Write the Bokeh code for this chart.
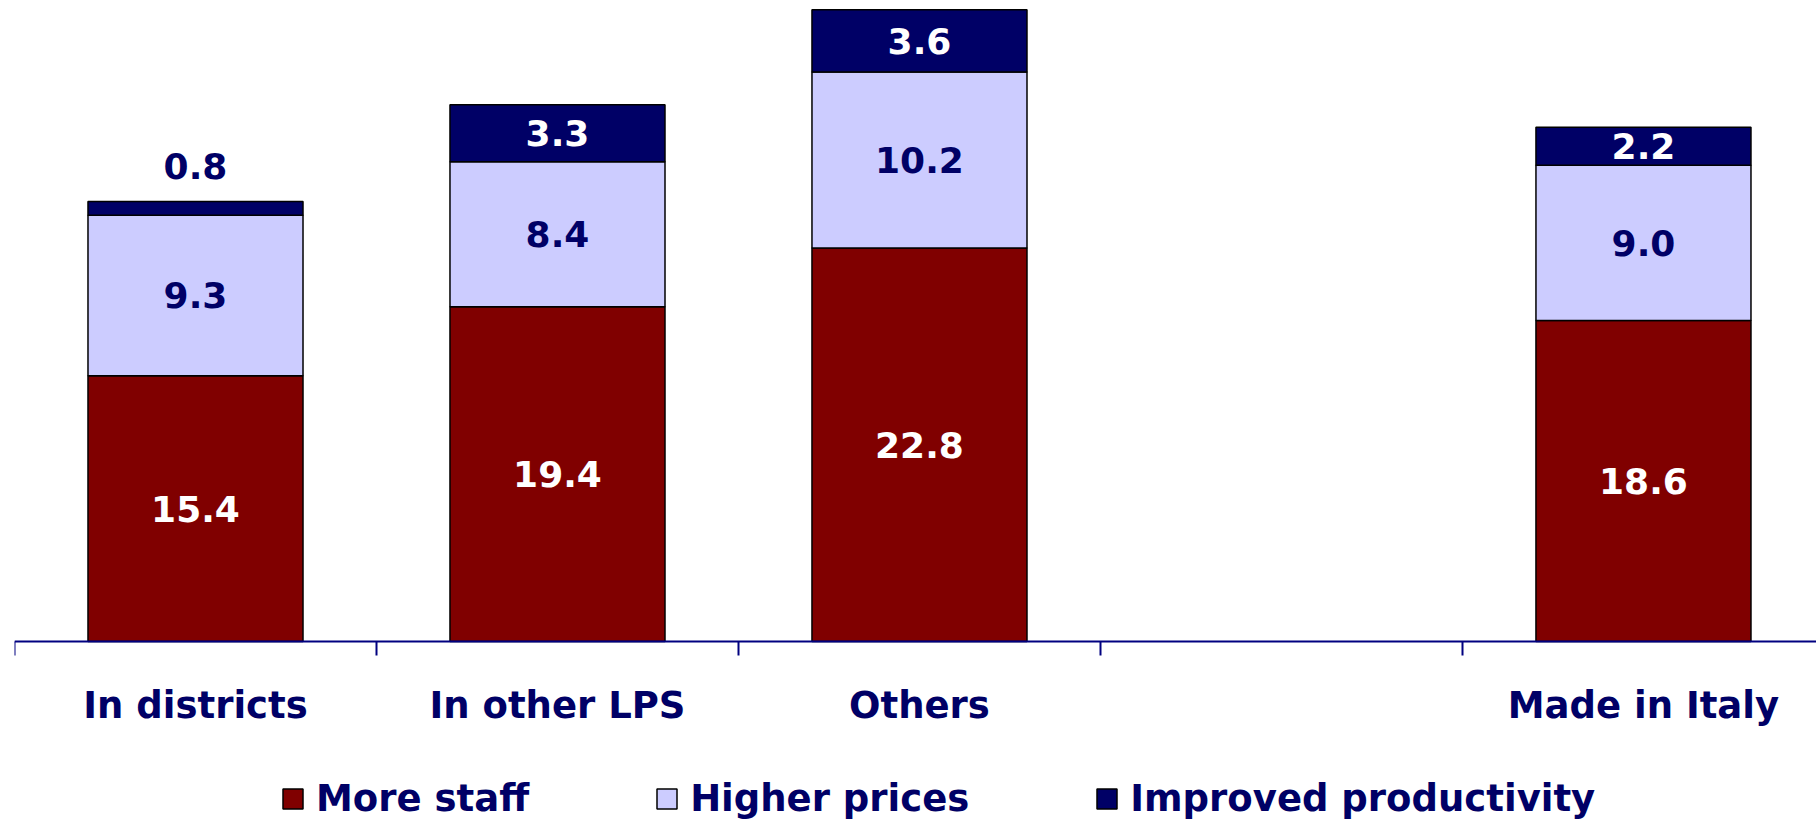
from bokeh.plotting import figure
from bokeh.models import Range1d, FixedTicker, Legend, LegendItem, ColumnDataSource
from bokeh.embed import file_html
from bokeh.resources import INLINE
from bokeh.core.properties import value

# ---- data ----
categories = ["In districts", "In other LPS", "Others", "", "Made in Italy"]
series = ["More staff", "Higher prices", "Improved productivity"]
more_staff = [15.4, 19.4, 22.8, None, 18.6]
higher_prices = [9.3, 8.4, 10.2, None, 9.0]
improved_productivity = [0.8, 3.3, 3.6, None, 2.2]

colors = ["#800000", "#CCCCFF", "#000066"]
NAVY = "#000066"
FONT = "DejaVu Sans"

idx = [i for i, c in enumerate(categories) if c]
xc = [i + 0.5 for i in idx]
ms = [more_staff[i] for i in idx]
hp = [higher_prices[i] for i in idx]
ip = [improved_productivity[i] for i in idx]

src = ColumnDataSource(dict(x=xc, ms=ms, hp=hp, ip=ip))

W, H = 1816, 822
p = figure(width=W, height=H, output_backend="svg", toolbar_location=None,
           x_range=Range1d(0, 4.978), y_range=Range1d(-10.49, 37.14),
           y_axis_location=None, min_border_left=14, min_border_right=0,
           min_border_top=0, min_border_bottom=0)
p.outline_line_color = None
p.xgrid.visible = False
p.ygrid.visible = False

rs = p.vbar_stack(["ms", "hp", "ip"], x="x", width=0.594, color=colors,
                  line_color="black", line_width=1.5, source=src)

# segment labels
lab_x, lab_y, lab_t, lab_c = [], [], [], []
for j in range(len(xc)):
    base = 0.0
    for k, vals in enumerate([ms, hp, ip]):
        v = vals[j]
        if v < 1.5:
            lab_y.append(base + v + 2.03)
            lab_c.append(NAVY)
        else:
            lab_y.append(base + v / 2)
            lab_c.append("white" if k != 1 else NAVY)
        lab_x.append(xc[j])
        lab_t.append(f"{v:.1f}")
        base += v
p.text(x=lab_x, y=lab_y, text=lab_t, text_color=lab_c, text_font=value(FONT),
       text_font_style="bold", text_font_size="36px", text_align="center",
       text_baseline="middle")

ax = p.xaxis[0]
ax.fixed_location = 0
ax.ticker = FixedTicker(ticks=xc, minor_ticks=[0, 1, 2, 3, 4])
ax.major_label_overrides = {x: categories[i] for x, i in zip(xc, idx)}
ax.major_tick_out = 0
ax.major_tick_in = 0
ax.minor_tick_out = 14
ax.minor_tick_in = 0
ax.minor_tick_line_color = "#000080"
ax.minor_tick_line_width = 2
ax.axis_line_color = "#000080"
ax.axis_line_width = 2
ax.major_label_text_font = FONT
ax.major_label_text_font_style = "bold"
ax.major_label_text_font_size = "37px"
ax.major_label_text_color = NAVY
ax.major_label_standoff = 29

legend = Legend(items=[LegendItem(label=s, renderers=[r]) for s, r in zip(series, rs)],
                orientation="horizontal", location=(266, 2))
legend.label_text_font = FONT
legend.label_text_font_style = "bold"
legend.label_text_font_size = "37px"
legend.label_text_color = NAVY
legend.glyph_width = 25
legend.glyph_height = 25
legend.label_standoff = 11
legend.spacing = 125
legend.border_line_color = None
legend.background_fill_alpha = 0
legend.padding = 0
legend.margin = 0
p.add_layout(legend)

open("out.html", "w").write(file_html(p, INLINE))
